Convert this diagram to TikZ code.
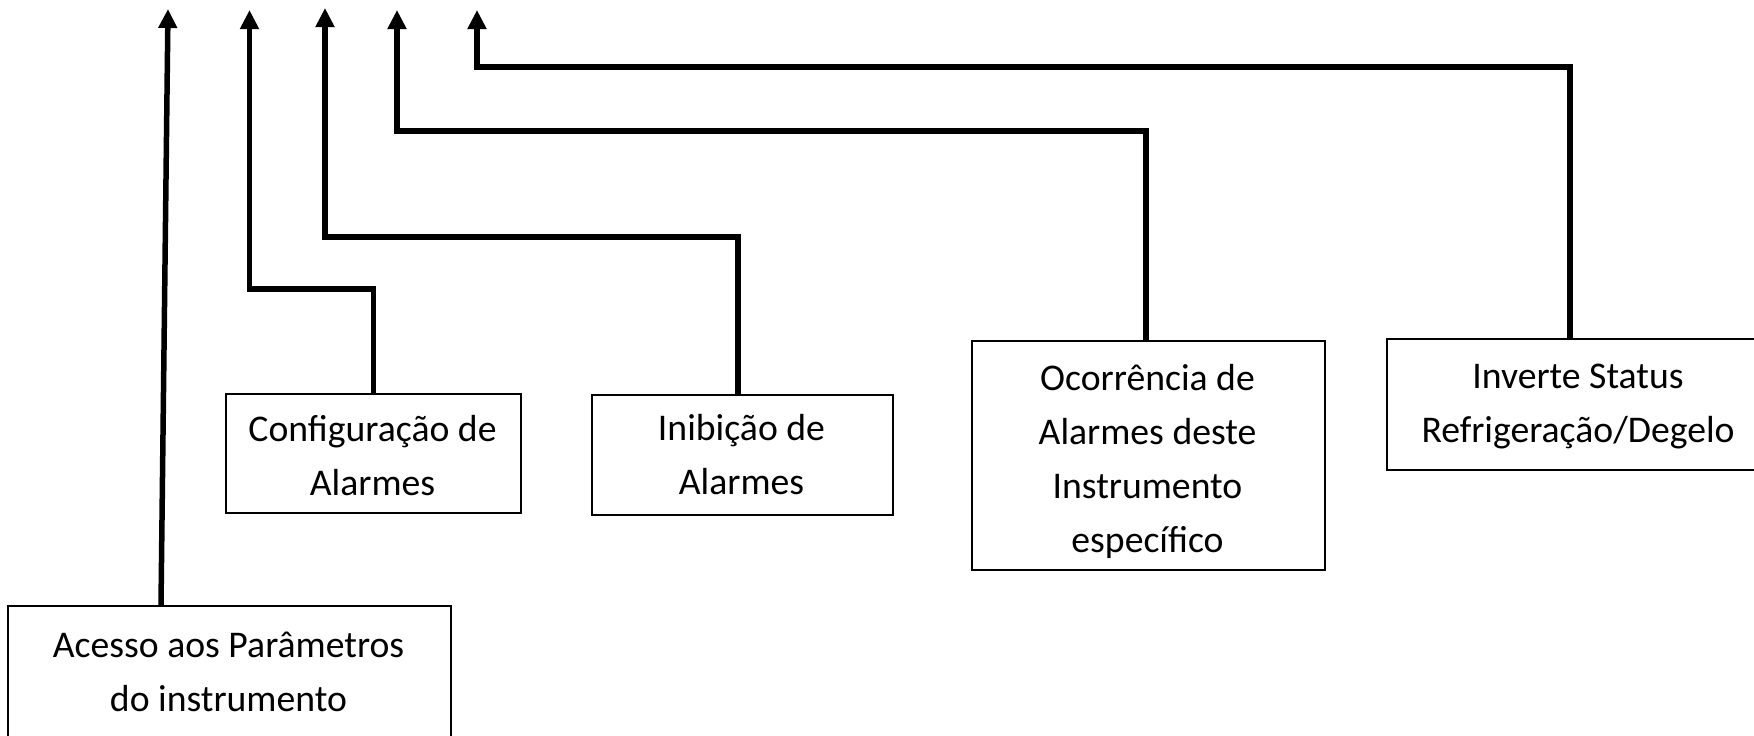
\documentclass[tikz,border=0pt]{standalone}
\usepackage{fontspec}
\setmainfont{Carlito}
\usetikzlibrary{arrows.meta}
\begin{document}
\begin{tikzpicture}[x=1pt,y=-1pt,
  box/.style={draw=black, line width=2pt, rectangle, inner sep=0pt, anchor=north west},
  txt/.style={align=center, inner sep=0pt, anchor=base, font=\fontsize{37.7}{53.8}\selectfont},
  conn/.style={line width=5.5pt, line join=miter, -{Triangle[width=18pt,length=19pt]}}
]
\useasboundingbox (0,0) rectangle (1754,736);
\clip (0,0) rectangle (1754,736);
% boxes
\node[box, minimum width=443pt, minimum height=200pt] (acc) at (7,605) {};
\node[box, minimum width=295pt, minimum height=119pt] (cfg) at (225,393) {};
\node[box, minimum width=301pt, minimum height=120pt] (inh) at (591,394) {};
\node[box, minimum width=353pt, minimum height=229pt] (oco) at (971,340) {};
\node[box, minimum width=384pt, minimum height=131pt] (inv) at (1386,338) {};
% texts (anchor base = baseline of last line)
\node[txt] (acct) at (228.5,711) {Acesso aos Parâmetros\\do instrumento};
\node[txt] (cfgt) at (372.5,495) {Configuração de\\Alarmes};
\node[txt] (inht) at (741.5,494) {Inibição de\\Alarmes};
\node[txt] (ocot) at (1147.5,552) {Ocorrência de\\Alarmes deste\\Instrumento\\específico};
\node[txt] (invt) at (1578,442.5) {Inverte Status\\Refrigeração/Degelo};
% arrow tips
\coordinate (a1) at (168,9);
\coordinate (a2) at (249.5,10);
\coordinate (a3) at (325,8);
\coordinate (a4) at (397,10);
\coordinate (a5) at (477,10);
% connectors
\draw[conn] ([xshift=-68.5pt]acc.north) -- (a1);
\draw[conn] (cfg.north) -- ++(0,-104) -| (a2);
\draw[conn] ([xshift=-4.5pt]inh.north) -- ++(0,-157) -| (a3);
\draw[conn] ([xshift=-2.5pt]oco.north) -- ++(0,-209) -| (a4);
\draw[conn] ([xshift=-9pt]inv.north) -- ++(0,-271) -| (a5);
\end{tikzpicture}
\end{document}
